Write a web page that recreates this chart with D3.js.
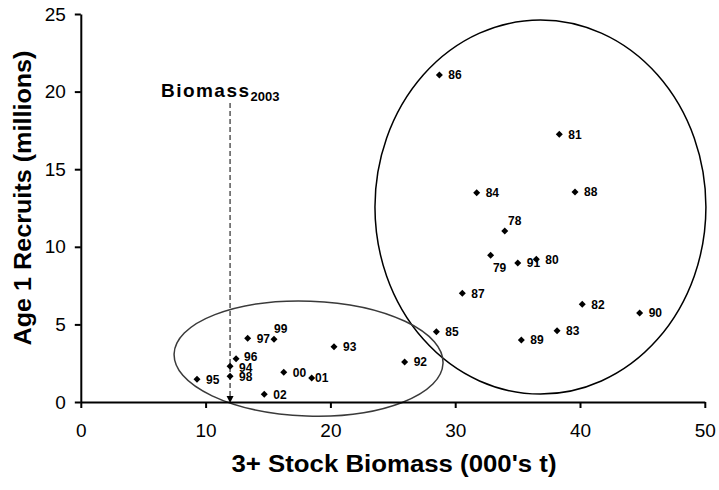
<!DOCTYPE html>
<html>
<head>
<meta charset="utf-8">
<script src="https://cdn.jsdelivr.net/npm/d3@7"></script>
<style>
  body { margin: 0; background: #fff; }
  svg { display: block; font-family: Arial, "Liberation Sans", sans-serif; }
</style>
</head>
<body>
<svg id="chart" width="719" height="490"></svg>
<script>
// year labels and values (biomass 000's t, recruits millions)
var years    = ["86","81","84","88","78","79","91","80","87","82","90","85","83","89",
                "92","93","99","97","96","94","98","00","01","95","02"];
var biomass  = [28.73,38.34,31.72,39.60,33.97,32.84,35.01,36.50,30.57,40.18,44.78,28.49,38.16,35.30,
                25.95,20.29,15.48,13.37,12.44,11.96,11.96,16.26,18.50,9.31,14.70];
var recruits = [21.07,17.25,13.49,13.53,11.02,9.45,8.96,9.19,7.00,6.30,5.73,4.53,4.59,3.99,
                2.58,3.56,4.04,4.10,2.79,2.30,1.66,1.91,1.55,1.46,0.50];

var xTicks = [0,10,20,30,40,50];
var yTicks = [0,5,10,15,20,25];

var biomass2003 = 11.96;

// groupings drawn as ellipses (data units: cx, cy, rx, ry)
var groupCx = [36.83, 18.25];
var groupCy = [12.56, 2.80];
var groupRx = [13.26, 10.78];
var groupRy = [12.05, 3.70];

// labels that don't sit to the right of their marker
var labelNudge = {
  "99": [0, -10.6],
  "78": [3.3, -10],
  "79": [2.3, 12.7],
  "01": [3.3, 0],
  "96": [8, -2],
  "94": [9, 1]
};

const svg = d3.select('#chart');

const x = d3.scaleLinear().domain([0, 50]).range([80.8, 704.8]);
const y = d3.scaleLinear().domain([0, 25]).range([402, 14]);

// ellipses first so the axis sits on top
const ell = svg.append('g');
ell.append('ellipse')
  .attr('cx', x(groupCx[0])).attr('cy', y(groupCy[0]))
  .attr('rx', x(groupRx[0]) - x(0)).attr('ry', y(0) - y(groupRy[0]))
  .attr('fill', 'none').attr('stroke', '#000').attr('stroke-width', 1.5);
ell.append('ellipse')
  .attr('cx', x(groupCx[1])).attr('cy', y(groupCy[1]))
  .attr('rx', x(groupRx[1]) - x(0)).attr('ry', y(0) - y(groupRy[1]))
  .attr('transform', 'rotate(2,' + x(groupCx[1]) + ',' + y(groupCy[1]) + ')')
  .attr('fill', 'none').attr('stroke', '#3a3a3a').attr('stroke-width', 1.5);

// axes
const xAxis = d3.axisBottom(x).tickValues(xTicks).tickSize(6).tickSizeOuter(0).tickPadding(16);
const yAxis = d3.axisLeft(y).tickValues(yTicks).tickSize(6).tickSizeOuter(0).tickPadding(9);

const gx = svg.append('g').attr('transform', `translate(0,${y(0)})`).call(xAxis);
const gy = svg.append('g').attr('transform', `translate(${x(0)},0)`).call(yAxis);

[gx, gy].forEach(function(g){
  g.select('.domain').attr('stroke', '#000').attr('stroke-width', 2);
  g.selectAll('.tick line').attr('stroke', '#000').attr('stroke-width', 2);
  g.selectAll('.tick text').attr('fill', '#000').style('font-size', '19px')
    .style('font-family', 'Arial, "Liberation Sans", sans-serif');
});

// axis titles
svg.append('text')
  .attr('x', 394).attr('y', 472)
  .attr('text-anchor', 'middle')
  .attr('textLength', 325).attr('lengthAdjust', 'spacingAndGlyphs')
  .style('font-size', '23px').style('font-weight', 'bold')
  .text("3+ Stock Biomass (000's t)");

svg.append('text')
  .attr('transform', 'translate(31,198) rotate(-90)')
  .attr('text-anchor', 'middle')
  .attr('textLength', 295).attr('lengthAdjust', 'spacingAndGlyphs')
  .style('font-size', '23px').style('font-weight', 'bold')
  .text('Age 1 Recruits (millions)');

// Biomass 2003 marker line with arrow
svg.append('line')
  .attr('x1', x(biomass2003)).attr('x2', x(biomass2003))
  .attr('y1', 103).attr('y2', y(0) - 5)
  .attr('stroke', '#000').attr('stroke-width', 1)
  .attr('stroke-dasharray', '5,3');
svg.append('path')
  .attr('d', d3.line()([[x(biomass2003) - 3.5, y(0) - 6], [x(biomass2003) + 3.5, y(0) - 6], [x(biomass2003), y(0) + 1]]) + 'Z')
  .attr('fill', '#000');

const bio = svg.append('text')
  .attr('x', 161).attr('y', 96.5)
  .style('font-size', '19px').style('font-weight', 'bold');
bio.append('tspan').attr('textLength', 88).attr('lengthAdjust', 'spacing').text('Biomass');
bio.append('tspan').attr('dy', 4).style('font-size', '13px').text('2003');

// points
const pts = years.map(function(d, i){ return { yr: d, b: biomass[i], r: recruits[i] }; });

svg.append('g').selectAll('path')
  .data(pts).join('path')
  .attr('d', 'M0,-3.5L3.5,0L0,3.5L-3.5,0Z')
  .attr('transform', d => `translate(${x(d.b)},${y(d.r)})`)
  .attr('fill', '#000');

svg.append('g').selectAll('text')
  .data(pts).join('text')
  .attr('x', d => x(d.b) + (labelNudge[d.yr] ? labelNudge[d.yr][0] : 9))
  .attr('y', d => y(d.r) + (labelNudge[d.yr] ? labelNudge[d.yr][1] : 0) + 4.3)
  .style('font-size', '12px').style('font-weight', 'bold')
  .text(d => d.yr);
</script>
</body>
</html>
